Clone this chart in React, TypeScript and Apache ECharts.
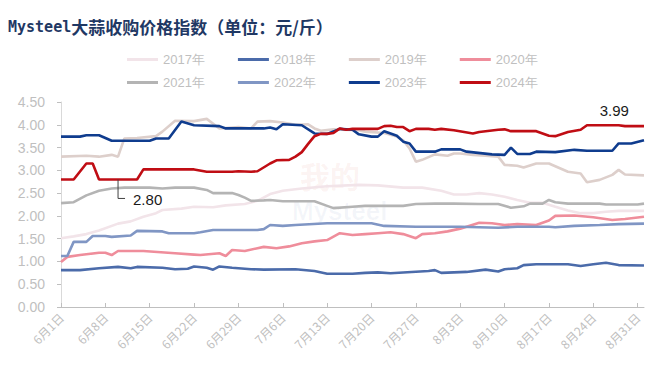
import React, { useEffect, useRef } from "react";
import * as echarts from "echarts";

// Categories: daily dates from 6月1日 to 9月1日
const monthDays: [number, number][] = [[6, 30], [7, 31], [8, 31], [9, 1]];
const dates: string[] = [];
monthDays.forEach(([m, n]) => {
  for (let d = 1; d <= n; d++) dates.push(`${m}月${d}日`);
});

const yearNames = ["2017年", "2018年", "2019年", "2020年", "2021年", "2022年", "2023年", "2024年"];

// [day index from 6月1日, price]
const s2017 = [[0,1.51],[2,1.55],[4,1.60],[6,1.68],[9,1.83],[11,1.88],[13,1.98],[15,2.06],[16,2.13],[19,2.16],[21,2.20],[24,2.19],[26,2.23],[29,2.26],[31,2.33],[33,2.48],[35,2.55],[38,2.60],[42,2.65],[47,2.68],[50,2.67],[54,2.62],[57,2.62],[60,2.55],[62,2.47],[64,2.47],[66,2.50],[68,2.47],[70,2.42],[72,2.35],[74,2.29],[76,2.29],[78,2.20],[80,2.12],[82,2.06],[84,2.06],[86,2.09],[88,2.11],[92,2.11]];
const s2018 = [[0,0.81],[3,0.81],[6,0.85],[9,0.88],[11,0.85],[12,0.88],[16,0.86],[18,0.83],[20,0.84],[21,0.89],[23,0.86],[24,0.82],[25,0.89],[27,0.86],[30,0.83],[32,0.82],[37,0.83],[40,0.79],[42,0.73],[46,0.73],[48,0.75],[50,0.76],[52,0.74],[58,0.79],[59,0.81],[60,0.75],[62,0.76],[64,0.77],[67,0.82],[69,0.78],[70,0.83],[72,0.85],[73,0.92],[75,0.94],[80,0.94],[82,0.90],[84,0.94],[86,0.97],[88,0.92],[92,0.91]];
const s2019 = [[0,3.30],[4,3.32],[6,3.30],[8,3.34],[9,3.30],[10,3.70],[12,3.71],[15,3.75],[16,3.85],[18,4.09],[21,4.08],[23,4.13],[25,3.92],[28,3.95],[30,3.92],[31,4.07],[33,4.08],[35,4.05],[37,4.00],[39,4.01],[40,3.92],[41,3.87],[43,3.90],[47,3.88],[48,3.85],[51,3.82],[53,3.74],[54,3.66],[55,3.48],[56,3.19],[57,3.23],[59,3.35],[61,3.32],[62,3.37],[63,3.37],[65,3.34],[67,3.32],[69,3.30],[70,3.12],[72,3.10],[73,3.06],[75,3.15],[77,3.15],[78,3.09],[80,2.97],[82,2.93],[83,2.74],[85,2.79],[87,2.90],[88,3.01],[89,2.91],[92,2.89]];
const s2020 = [[0,0.99],[1,1.10],[3,1.14],[6,1.19],[7,1.19],[8,1.14],[9,1.23],[13,1.23],[18,1.18],[21,1.15],[22,1.14],[25,1.18],[26,1.12],[27,1.25],[29,1.23],[31,1.29],[32,1.32],[34,1.29],[36,1.33],[38,1.40],[40,1.44],[42,1.47],[44,1.62],[46,1.58],[48,1.60],[50,1.62],[52,1.64],[54,1.60],[56,1.51],[57,1.60],[59,1.62],[61,1.66],[63,1.72],[66,1.85],[68,1.84],[70,1.80],[72,1.82],[75,1.80],[77,1.90],[78,2.00],[81,2.01],[84,1.97],[87,1.91],[89,1.93],[92,1.98]];
const s2021 = [[0,2.28],[2,2.30],[4,2.45],[6,2.55],[8,2.60],[10,2.62],[14,2.62],[16,2.60],[18,2.62],[21,2.62],[23,2.57],[24,2.50],[27,2.50],[28,2.46],[29,2.40],[30,2.33],[32,2.34],[33,2.35],[35,2.32],[40,2.32],[42,2.22],[43,2.17],[46,2.20],[48,2.22],[54,2.22],[56,2.26],[59,2.27],[62,2.27],[66,2.26],[69,2.26],[71,2.18],[73,2.21],[74,2.27],[76,2.27],[77,2.35],[78,2.30],[80,2.27],[85,2.27],[86,2.25],[91,2.25],[92,2.27]];
const s2022 = [[0,1.12],[1,1.12],[2,1.43],[4,1.43],[5,1.56],[7,1.56],[8,1.54],[11,1.57],[12,1.67],[16,1.66],[17,1.62],[21,1.62],[22,1.64],[24,1.69],[31,1.69],[32,1.71],[33,1.80],[35,1.78],[37,1.80],[42,1.84],[49,1.84],[51,1.78],[56,1.76],[63,1.76],[69,1.74],[72,1.76],[77,1.76],[78,1.75],[81,1.78],[85,1.80],[88,1.82],[92,1.83]];
const s2023 = [[0,3.74],[3,3.74],[4,3.77],[6,3.77],[8,3.65],[14,3.65],[15,3.70],[17,3.70],[19,4.07],[21,3.99],[25,3.97],[26,3.92],[32,3.92],[33,3.94],[34,3.90],[35,4.01],[38,3.99],[40,3.81],[42,3.80],[44,3.91],[46,3.89],[47,3.79],[49,3.74],[50,3.74],[51,3.86],[52,3.81],[53,3.76],[54,3.63],[55,3.59],[56,3.41],[59,3.41],[60,3.46],[63,3.46],[64,3.41],[68,3.35],[70,3.34],[71,3.50],[72,3.36],[74,3.36],[75,3.41],[78,3.40],[81,3.45],[83,3.43],[87,3.43],[88,3.59],[90,3.59],[92,3.66]];
const s2024 = [[0,2.80],[2,2.80],[4,3.15],[5,3.15],[6,2.80],[9,2.80],[12,2.80],[13,3.02],[21,3.02],[23,2.97],[27,2.97],[28,2.98],[30,2.97],[31,2.98],[33,3.15],[34,3.22],[36,3.23],[37,3.30],[38,3.40],[39,3.58],[40,3.75],[41,3.80],[42,3.80],[43,3.82],[44,3.92],[45,3.89],[46,3.91],[50,3.91],[51,3.97],[52,3.98],[53,3.95],[54,3.95],[55,3.86],[56,3.91],[58,3.91],[59,3.89],[60,3.91],[62,3.88],[65,3.81],[66,3.84],[69,3.89],[70,3.90],[71,3.86],[75,3.86],[77,3.76],[78,3.75],[80,3.84],[82,3.89],[83,3.99],[87,3.99],[88,3.99],[89,3.97],[92,3.97]];

const seriesData = [s2017, s2018, s2019, s2020, s2021, s2022, s2023, s2024];
const colors = ["#F2E4E9", "#4B6BAA", "#DDCFCB", "#EF8D9B", "#B4B4B4", "#8096C4", "#0F3C8E", "#C00D14"];

// annotated points: [series index, day index, value]
const noteLow = [7, 9, 2.8];
const noteHigh = [7, 87, 3.99];

const TXT = "#BFBFBF";
const FONT = "Liberation Sans, Arial, sans-serif";

export default function App() {
  const ref = useRef<HTMLDivElement>(null);
  useEffect(() => {
    if (!ref.current) return;
    const chart = echarts.init(ref.current, null, { renderer: "svg" });
    const legendCommon = {
      left: 127,
      padding: 0,
      itemWidth: 31,
      itemHeight: 3,
      itemGap: 33,
      icon: "rect",
      textStyle: { color: TXT, fontSize: 13, fontFamily: FONT },
    };
    chart.setOption({
      animation: false,
      title: {
        text: "{a|Mysteel}{b|大蒜收购价格指数（单位：元/斤）}",
        left: 8,
        top: 18,
        padding: 0,
        textStyle: {
          rich: {
            a: { fontSize: 15, fontWeight: "bold", color: "#1F3864", fontFamily: "DejaVu Sans Mono, monospace" },
            b: { fontSize: 17, fontWeight: "bold", color: "#1F3864", fontFamily: "Noto Sans CJK SC, sans-serif" },
          },
        },
      },
      legend: [
        { ...legendCommon, top: 53, data: yearNames.slice(0, 4) },
        { ...legendCommon, top: 76, data: yearNames.slice(4) },
      ],
      grid: { left: 61, right: 16, top: 102, bottom: 72 },
      xAxis: {
        type: "category",
        data: dates,
        boundaryGap: false,
        axisLine: { lineStyle: { color: "#BFBFBF" } },
        axisTick: { interval: 6, inside: true, length: 4, lineStyle: { color: "#BFBFBF" } },
        axisLabel: { interval: 6, rotate: 45, color: TXT, fontSize: 12, fontFamily: "Noto Sans CJK SC, sans-serif", margin: 8 },
        splitLine: { show: false },
      },
      yAxis: {
        type: "value",
        min: 0,
        max: 4.5,
        interval: 0.5,
        axisLine: { show: true, lineStyle: { color: "#D9D9D9" } },
        axisTick: { show: true, length: 4, lineStyle: { color: "#BFBFBF" } },
        axisLabel: { color: TXT, fontSize: 14, fontFamily: FONT, formatter: (v: number) => v.toFixed(2), margin: 16 },
        splitLine: { show: false },
      },
      series: seriesData.map((d, i) => ({
        name: yearNames[i],
        type: "line",
        data: d,
        showSymbol: false,
        symbol: "none",
        color: colors[i],
        lineStyle: { width: 2.6, color: colors[i] },
      })),
    });

    const pLow = chart.convertToPixel({ seriesIndex: noteLow[0] }, [noteLow[1], noteLow[2]]) as number[];
    const pHigh = chart.convertToPixel({ seriesIndex: noteHigh[0] }, [noteHigh[1], noteHigh[2]]) as number[];
    chart.setOption({
      graphic: [
        {
          type: "text",
          left: 300,
          top: 160,
          z: 0,
          style: { text: "我的", fontSize: 30, fontWeight: "bold", fill: "rgba(220,90,70,0.07)", fontFamily: "Noto Sans CJK SC" },
        },
        {
          type: "text",
          left: 292,
          top: 198,
          z: 0,
          style: { text: "Mysteel", fontSize: 26, fontWeight: "bold", fill: "rgba(70,100,170,0.06)", fontFamily: FONT },
        },
        {
          type: "polyline",
          z: 10,
          shape: { points: [[pLow[0], pLow[1]], [pLow[0], pLow[1] + 19], [pLow[0] + 7, pLow[1] + 19]] },
          style: { stroke: "#404040", lineWidth: 1, fill: null },
        },
        {
          type: "text",
          z: 10,
          x: pLow[0] + 15,
          y: pLow[1] + 20,
          style: { text: "2.80", fontSize: 15, fill: "#1A1A1A", fontFamily: FONT, verticalAlign: "middle", align: "left" },
        },
        {
          type: "text",
          z: 10,
          x: pHigh[0] + 2,
          y: pHigh[1] - 15,
          style: { text: "3.99", fontSize: 15, fill: "#1A1A1A", fontFamily: FONT, verticalAlign: "middle", align: "center" },
        },
      ],
    });
    return () => chart.dispose();
  }, []);
  return <div ref={ref} style={{ position: "fixed", left: 0, top: 0, width: 660, height: 379, background: "#fff" }} />;
}
